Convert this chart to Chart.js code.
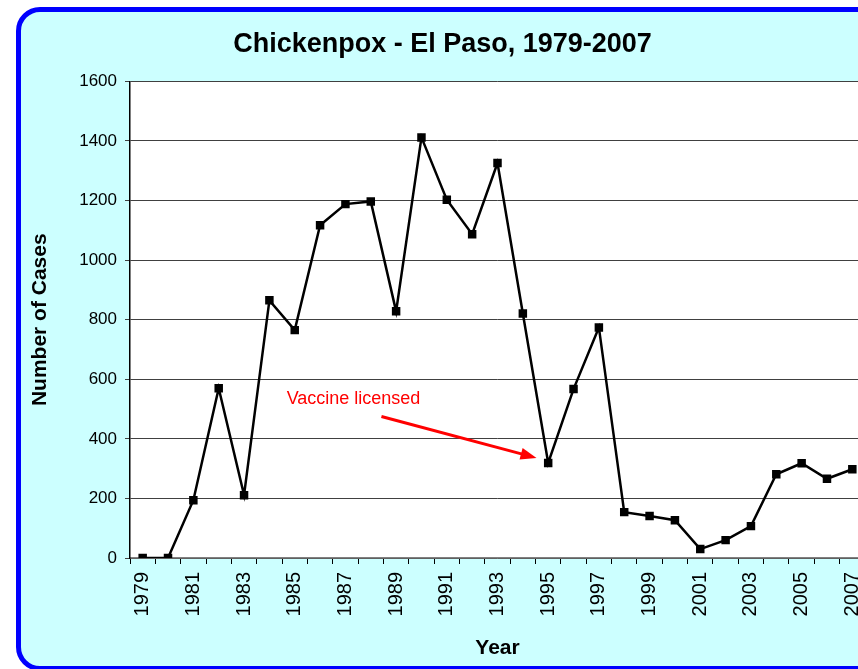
<!DOCTYPE html>
<html>
<head>
<meta charset="utf-8">
<title>Chickenpox - El Paso, 1979-2007</title>
<script src="https://cdn.jsdelivr.net/npm/chart.js@4"></script>
<style>
  html, body { margin: 0; padding: 0; background: #fff; overflow: hidden; }
  #wrap { position: relative; width: 858px; height: 669px; overflow: hidden; }
  #box {
    position: absolute; left: 16px; top: 7px; width: 864px; height: 664px;
    box-sizing: border-box; border: 5px solid #0000ff; border-radius: 24px;
    background: #ccffff;
  }
  #chart { position: absolute; left: 0; top: 0; }
</style>
</head>
<body>
<div id="wrap">
  <div id="box"></div>
  <canvas id="chart" width="900" height="669"></canvas>
</div>
<script>
const years = [
  "1979", "1980", "1981", "1982", "1983", "1984", "1985", "1986", "1987", "1988",
  "1989", "1990", "1991", "1992", "1993", "1994", "1995", "1996", "1997", "1998",
  "1999", "2000", "2001", "2002", "2003", "2004", "2005", "2006", "2007",
];
const cases = [
  0, 0, 194, 570, 211, 865, 765, 1117, 1188, 1197,
  828, 1412, 1203, 1087, 1326, 821, 319, 567, 774, 154,
  141, 127, 30, 60, 107, 281, 318, 266, 298,
];
const yTicks = [0, 200, 400, 600, 800, 1000, 1200, 1400, 1600];

// annotation, in data units (category index, cases)
const noteText = "Vaccine licensed";
const noteAt = { x: 5.68, y: 518 };
const arrowFrom = { x: 9.42, y: 475 };
const arrowTo = { x: 15.54, y: 336 };

Chart.defaults.font.family = "Arial, 'Liberation Sans', sans-serif";
Chart.defaults.color = "#000";

const plotBackground = {
  id: "plotBackground",
  beforeDraw(chart) {
    const { ctx, chartArea: a } = chart;
    ctx.save();
    ctx.fillStyle = "#fff";
    ctx.fillRect(a.left, a.top, a.right - a.left, a.bottom - a.top);
    ctx.restore();
  },
};

const vaccineNote = {
  id: "vaccineNote",
  afterDatasetsDraw(chart) {
    const { ctx, scales } = chart;
    const px = (p) => [scales.x.getPixelForValue(p.x), scales.y.getPixelForValue(p.y)];
    const [tx, ty] = px(noteAt);
    const [x1, y1] = px(arrowFrom);
    const [x2, y2] = px(arrowTo);
    ctx.save();
    ctx.fillStyle = "#ff0000";
    ctx.strokeStyle = "#ff0000";
    ctx.font = "18px Arial, 'Liberation Sans', sans-serif";
    ctx.textBaseline = "alphabetic";
    ctx.fillText(noteText, tx, ty);
    // arrow shaft
    const ang = Math.atan2(y2 - y1, x2 - x1);
    const head = 16;
    ctx.lineWidth = 3;
    ctx.beginPath();
    ctx.moveTo(x1, y1);
    ctx.lineTo(x2 - Math.cos(ang) * head * 0.8, y2 - Math.sin(ang) * head * 0.8);
    ctx.stroke();
    // arrow head
    ctx.beginPath();
    ctx.moveTo(x2, y2);
    ctx.lineTo(x2 - head * Math.cos(ang) + 6 * Math.sin(ang), y2 - head * Math.sin(ang) - 6 * Math.cos(ang));
    ctx.lineTo(x2 - head * Math.cos(ang) - 6 * Math.sin(ang), y2 - head * Math.sin(ang) + 6 * Math.cos(ang));
    ctx.closePath();
    ctx.fill();
    ctx.restore();
  },
};

new Chart(document.getElementById("chart"), {
  type: "line",
  data: {
    labels: years,
    datasets: [
      {
        label: "Cases",
        data: cases,
        borderColor: "#000",
        backgroundColor: "#000",
        borderWidth: 2.5,
        tension: 0,
        pointStyle: "rect",
        pointRadius: 6,
        pointBackgroundColor: "#000",
        pointBorderColor: "#000",
        pointBorderWidth: 0,
      },
    ],
  },
  options: {
    responsive: false,
    animation: false,
    layout: { padding: { left: 20, right: 35, top: 0, bottom: 0 } },
    plugins: {
      legend: { display: false },
      tooltip: { enabled: false },
      title: {
        display: true,
        text: "Chickenpox - El Paso, 1979-2007",
        font: { size: 27, weight: "bold" },
        color: "#000",
        padding: { top: 28, bottom: 21 },
      },
    },
    scales: {
      x: {
        type: "category",
        offset: true,
        grid: {
          offset: true,
          drawOnChartArea: false,
          tickLength: 6,
          color: "#000",
        },
        border: { color: "#808080", width: 1.5 },
        ticks: {
          autoSkip: false,
          maxRotation: 90,
          minRotation: 90,
          padding: 8,
          font: { size: 20 },
          color: "#000",
          callback: (v, i) => (i % 2 === 0 ? years[i] : ""),
        },
        title: {
          display: true,
          text: "Year",
          font: { size: 21, weight: "bold" },
          color: "#000",
          padding: { top: 0, bottom: 8 },
        },
        afterFit(scale) {
          scale.height = 111;
        },
      },
      y: {
        min: 0,
        max: 1600,
        grid: { color: "#404040", lineWidth: 1, tickLength: 5 },
        border: { color: "#000", width: 1.5 },
        afterBuildTicks(scale) {
          scale.ticks = yTicks.map((v) => ({ value: v }));
        },
        ticks: {
          padding: 8,
          font: { size: 17 },
          color: "#000",
          callback: (v) => String(v),
        },
        title: {
          display: true,
          text: "Number of Cases",
          font: { size: 21, weight: "bold" },
          color: "#000",
          padding: { top: 8, bottom: 0 },
        },
        afterFit(scale) {
          scale.width = 110;
        },
      },
    },
  },
  plugins: [plotBackground, vaccineNote],
});
</script>
</body>
</html>
